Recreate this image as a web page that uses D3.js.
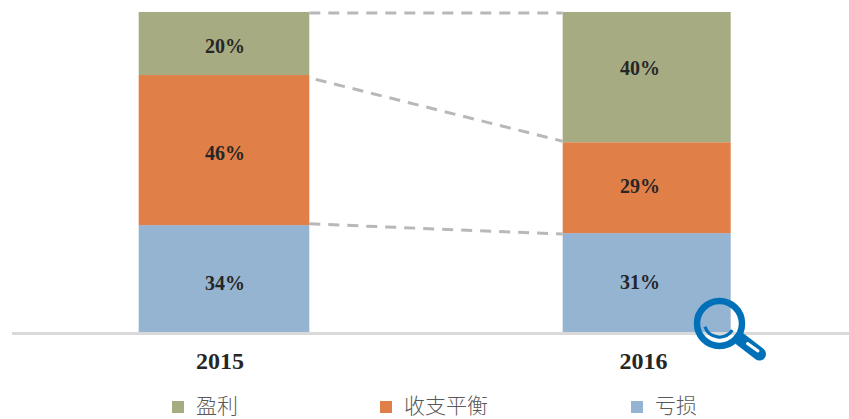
<!DOCTYPE html>
<html>
<head>
<meta charset="utf-8">
<script src="https://cdn.jsdelivr.net/npm/d3@7"></script>
<style>
  html, body { margin: 0; padding: 0; background: #fff; }
  svg { display: block; }
</style>
</head>
<body>
<script>
// values, bottom to top
const years = ["2015", "2016"];
const seriesNames = ["亏损", "收支平衡", "盈利"];
const loss = [33.4, 30.9];
const even = [46.9, 28.4];
const profit = [19.7, 40.7];
const lossLabels = ["34%", "31%"];
const evenLabels = ["46%", "29%"];
const profitLabels = ["20%", "40%"];
const legendNames = ["盈利", "收支平衡", "亏损"];

const width = 849, height = 419;
const colors = { "亏损": "#94b4d2", "收支平衡": "#e07f47", "盈利": "#a6ab82" };

const svg = d3.select("body").append("svg")
    .attr("width", width)
    .attr("height", height);

const x = d3.scaleBand().domain(years).range([138.7, 732.7]).paddingInner(0.599).paddingOuter(0);
const y = d3.scaleLinear().domain([0, 100]).range([332, 12]);
const barWidth = [170.6, 168];

const columns = [loss, even, profit];
const labels = [lossLabels, evenLabels, profitLabels];

const rows = years.map((yr, i) => {
    const r = { year: yr };
    seriesNames.forEach((s, k) => { r[s] = columns[k][i]; });
    return r;
});
const stacked = d3.stack().keys(seriesNames)(rows);

// bars
stacked.forEach(layer => {
    svg.append("g").selectAll("rect").data(layer).enter().append("rect")
        .attr("x", d => x(d.data.year))
        .attr("width", (d, i) => barWidth[i])
        .attr("y", d => y(d[1]))
        .attr("height", d => y(d[0]) - y(d[1]))
        .attr("fill", colors[layer.key]);
});

// dashed connectors between the two columns
const x0 = x("2015") + barWidth[0];
const x1 = x("2016");
svg.append("g").selectAll("line").data(stacked).enter().append("line")
    .attr("x1", (d, i) => x0 + (i === 1 ? 6.4 : 0))
    .attr("x2", x1)
    .attr("y1", (d, i) => y(d[0][1]) + [-1.3, 4.3, 1][i])
    .attr("y2", (d, i) => y(d[1][1]) + [1, -1, 1][i])
    .attr("stroke", "#b8b8b8")
    .attr("stroke-width", 3)
    .attr("stroke-dasharray", "11 8");

// value labels, not all centred in their segment
const labelX = [225, 640];
const labelShift = [[11, 6], [10, 5], [9, -2]];
stacked.forEach((layer, k) => {
    svg.append("g").selectAll("text").data(layer).enter().append("text")
        .attr("x", (d, i) => labelX[i])
        .attr("y", (d, i) => (y(d[0]) + y(d[1])) / 2 + labelShift[k][i])
        .attr("text-anchor", "middle")
        .attr("font-family", "'Liberation Serif', serif")
        .attr("font-weight", "bold")
        .attr("font-size", "20px")
        .attr("fill", "#262626")
        .text((d, i) => labels[k][i]);
});

// baseline
svg.append("line")
    .attr("x1", 12).attr("x2", width)
    .attr("y1", 333.5).attr("y2", 333.5)
    .attr("stroke", "#d9d9d9")
    .attr("stroke-width", 3);

// year labels
const yearX = [220, 643.5];
svg.append("g").selectAll("text").data(years).enter().append("text")
    .attr("x", (d, i) => yearX[i])
    .attr("y", 369)
    .attr("text-anchor", "middle")
    .attr("font-family", "'Liberation Serif', serif")
    .attr("font-weight", "bold")
    .attr("font-size", "24px")
    .attr("fill", "#262626")
    .text(d => d);

// legend
const legendPos = { "盈利": 172, "收支平衡": 380, "亏损": 631 };
const legend = svg.append("g").selectAll("g").data(legendNames).enter().append("g")
    .attr("transform", d => "translate(" + legendPos[d] + ",401)");
legend.append("rect")
    .attr("width", 12).attr("height", 12)
    .attr("fill", d => colors[d]);
legend.append("text")
    .attr("x", 24)
    .attr("y", 11.9)
    .attr("font-family", "'Noto Sans CJK SC', sans-serif")
    .attr("font-weight", 300)
    .attr("font-size", "21px")
    .attr("fill", "#595959")
    .text(d => d);

// magnifier icon
const icon = svg.append("g").attr("fill", "none").attr("stroke", "#0070b8");
icon.append("line")
    .attr("x1", 740).attr("y1", 339).attr("x2", 759.5).attr("y2", 354)
    .attr("stroke-width", 13).attr("stroke-linecap", "round");
icon.append("line")
    .attr("x1", 747.5).attr("y1", 343.5).attr("x2", 758).attr("y2", 351)
    .attr("stroke", "#fff")
    .attr("stroke-width", 3).attr("stroke-linecap", "round");
icon.append("circle")
    .attr("cx", 719.5).attr("cy", 323.5).attr("r", 22.5)
    .attr("stroke-width", 6.5);
icon.append("path")
    .attr("d", d3.arc()({ innerRadius: 15.5, outerRadius: 15.5, startAngle: Math.PI * 0.69, endAngle: Math.PI * 1.39 }))
    .attr("transform", "translate(719.5,321.5)")
    .attr("stroke-width", 3.2);
</script>
</body>
</html>
